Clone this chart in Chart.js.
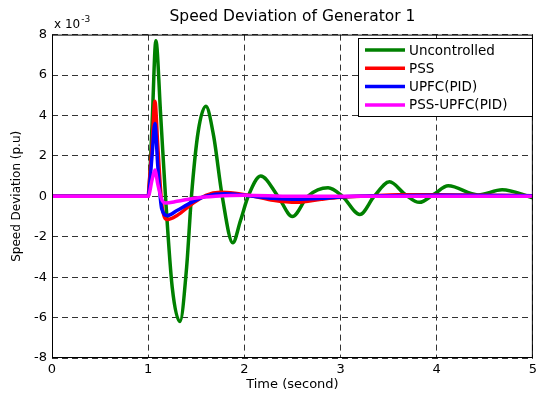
<!DOCTYPE html>
<html>
<head>
<meta charset="utf-8">
<script src="https://cdn.jsdelivr.net/npm/chart.js@4"></script>
<style>
  html, body { margin: 0; padding: 0; background: #fff; }
</style>
</head>
<body>
<canvas id="chart" width="541" height="394"></canvas>
<script>
// values (y in units of 1e-3 p.u.)
const seriesNames = ['Uncontrolled', 'PSS', 'UPFC(PID)', 'PSS-UPFC(PID)'];
const seriesColors = ['#008000', '#ff0000', '#0000ff', '#ff00ff'];

const tUncontrolled = [0, 1.0, 1.04, 1.08, 1.13, 1.18, 1.25, 1.33, 1.40, 1.45, 1.52, 1.60, 1.68, 1.77, 1.88, 1.96, 2.04, 2.17, 2.35, 2.50, 2.66, 2.87, 3.02, 3.20, 3.35, 3.51, 3.67, 3.82, 3.97, 4.12, 4.43, 4.68, 5.0];
const yUncontrolled = [0, 0, 3.5, 7.7, 4.0, 0, -4.5, -6.2, -3.5, 0, 3.2, 4.45, 3.0, 0, -2.3, -1.2, 0, 1.0, 0, -1.0, 0, 0.42, 0, -0.9, 0, 0.72, 0.1, -0.3, 0.1, 0.52, 0.07, 0.32, -0.07];

const tPSS = [0, 1.0, 1.01, 1.04, 1.07, 1.10, 1.14, 1.20, 1.30, 1.45, 1.60, 1.75, 1.90, 2.10, 2.30, 2.55, 2.80, 3.00, 3.30, 3.60, 4.00, 4.50, 5.0];
const yPSS = [0, 0, 0.6, 2.5, 4.7, 2.5, -0.3, -1.15, -0.95, -0.4, 0.05, 0.2, 0.15, 0, -0.2, -0.3, -0.15, -0.05, 0.02, 0.08, 0.08, 0.05, 0.03];

const tUPFC = [0, 1.0, 1.01, 1.04, 1.07, 1.10, 1.14, 1.20, 1.30, 1.45, 1.60, 1.80, 2.00, 2.30, 2.55, 2.80, 3.00, 3.50, 4.00, 5.0];
const yUPFC = [0, 0, 0.3, 2.0, 3.6, 1.5, -0.6, -0.95, -0.7, -0.3, 0, 0.12, 0.05, -0.1, -0.15, -0.1, -0.03, 0.03, 0.05, 0.03];

const tPSSUPFC = [0, 1.0, 1.04, 1.07, 1.10, 1.14, 1.18, 1.30, 1.50, 1.70, 2.00, 2.50, 3.00, 5.0];
const yPSSUPFC = [0, 0, 0.8, 1.3, 0.6, -0.15, -0.33, -0.25, -0.08, 0, 0.05, 0, 0, 0];

const xTicks = [0, 1, 2, 3, 4, 5];
const yTicks = [-8, -6, -4, -2, 0, 2, 4, 6, 8];

const seriesT = [tUncontrolled, tPSS, tUPFC, tPSSUPFC];
const seriesY = [yUncontrolled, yPSS, yUPFC, yPSSUPFC];

const FONT = 'DejaVu Sans, Arial, sans-serif';

const datasets = seriesNames.map((name, i) => ({
  label: name,
  data: seriesT[i].map((t, k) => ({ x: t, y: seriesY[i][k] })),
  borderColor: seriesColors[i],
  backgroundColor: seriesColors[i],
  borderWidth: 3.5,
  pointRadius: 0,
  cubicInterpolationMode: 'monotone',
  order: 4 - i            // later series drawn on top, like MATLAB
}));

// box around the axes, "x 10^-3" and the in-plot legend
const decor = {
  id: 'decor',
  afterDraw(chart) {
    const { ctx, chartArea: a } = chart;
    ctx.save();
    ctx.strokeStyle = '#000';
    ctx.lineWidth = 1;
    ctx.strokeRect(a.left + 0.5, a.top + 0.5, a.right - a.left - 1, a.bottom - a.top - 1);

    ctx.fillStyle = '#000';
    ctx.textBaseline = 'alphabetic';
    ctx.font = '12px ' + FONT;
    ctx.fillText('x 10', a.left + 2, a.top - 7);
    const w = ctx.measureText('x 10').width;
    ctx.font = '9px ' + FONT;
    ctx.fillText('-3', a.left + 2 + w + 1, a.top - 13);

    // legend
    const lx = 358, ly = 38, lw = 174, lh = 78;
    ctx.fillStyle = '#fff';
    ctx.fillRect(lx, ly, lw, lh);
    ctx.strokeStyle = '#000';
    ctx.strokeRect(lx + 0.5, ly + 0.5, lw, lh);
    ctx.font = '13.5px ' + FONT;
    ctx.textBaseline = 'middle';
    seriesNames.forEach((name, i) => {
      const yy = ly + 12 + i * 18.3;
      ctx.strokeStyle = seriesColors[i];
      ctx.lineWidth = 3.5;
      ctx.beginPath();
      ctx.moveTo(lx + 7, yy);
      ctx.lineTo(lx + 47, yy);
      ctx.stroke();
      ctx.fillStyle = '#000';
      ctx.fillText(name, lx + 51, yy + 1);
    });
    ctx.restore();
  }
};

new Chart(document.getElementById('chart'), {
  type: 'line',
  data: { datasets },
  options: {
    responsive: false,
    animation: false,
    layout: { padding: { left: 0, right: 3, top: 0, bottom: 0 } },
    plugins: {
      legend: { display: false },
      tooltip: { enabled: false },
      title: {
        display: true,
        text: 'Speed Deviation of Generator 1',
        fullSize: false,
        color: '#000',
        font: { family: FONT, size: 15.5, weight: 'normal' },
        padding: { top: 8, bottom: 8 }
      }
    },
    scales: {
      x: {
        type: 'linear',
        min: 0, max: 5,
        afterBuildTicks: s => { s.ticks = xTicks.map(v => ({ value: v })); },
        afterFit: s => { s.height = 36; },
        ticks: { color: '#000', padding: 4, maxRotation: 0, font: { family: FONT, size: 13 } },
        grid: { color: '#333', lineWidth: 1, drawTicks: false },
        border: { display: false, dash: [6, 4] },
        title: { display: true, text: 'Time (second)', color: '#000', padding: { top: 0, bottom: 2 }, font: { family: FONT, size: 13 } }
      },
      y: {
        min: -8, max: 8,
        afterBuildTicks: s => { s.ticks = yTicks.map(v => ({ value: v })); },
        afterFit: s => { s.width = 52; },
        ticks: { color: '#000', padding: 5, font: { family: FONT, size: 13 } },
        grid: { color: '#333', lineWidth: 1, drawTicks: false },
        border: { display: false, dash: [6, 4] },
        title: { display: true, text: 'Speed Deviation (p.u)', color: '#000', padding: { top: 10, bottom: 0 }, font: { family: FONT, size: 12 } }
      }
    }
  },
  plugins: [decor]
});
</script>
</body>
</html>
